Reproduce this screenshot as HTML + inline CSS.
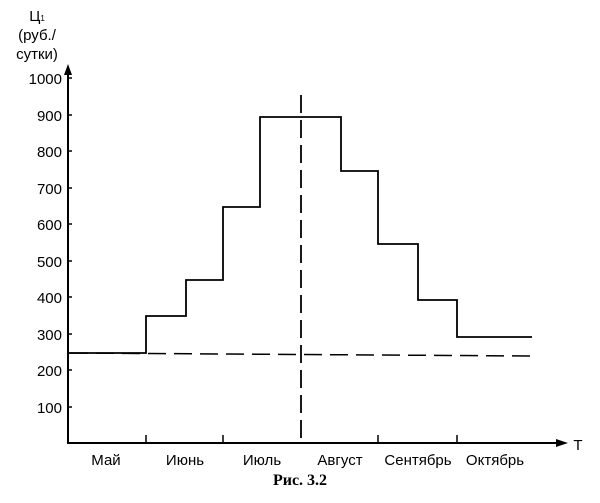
<!DOCTYPE html>
<html><head><meta charset="utf-8"><style>body{margin:0;background:#fff}</style></head><body>
<svg width="600" height="498" viewBox="0 0 600 498" xmlns="http://www.w3.org/2000/svg" font-family="Liberation Sans, sans-serif" fill="#000">
<g stroke="#000" stroke-width="2" fill="none">
<line x1="68" y1="72" x2="68" y2="443"/>
<line x1="67" y1="443" x2="560" y2="443"/>
<g stroke-width="1.5">
<line x1="68" y1="78" x2="72" y2="78"/><line x1="68" y1="115" x2="72" y2="115"/><line x1="68" y1="151" x2="72" y2="151"/><line x1="68" y1="188" x2="72" y2="188"/><line x1="68" y1="224" x2="72" y2="224"/><line x1="68" y1="261" x2="72" y2="261"/><line x1="68" y1="297" x2="72" y2="297"/><line x1="68" y1="334" x2="72" y2="334"/><line x1="68" y1="370" x2="72" y2="370"/><line x1="68" y1="407" x2="72" y2="407"/>
<line x1="146" y1="435" x2="146" y2="443"/><line x1="223" y1="435" x2="223" y2="443"/><line x1="378" y1="435" x2="378" y2="443"/><line x1="457" y1="435" x2="457" y2="443"/>
</g>
<polyline stroke-width="1.8" points="68,353 146,353 146,316 186,316 186,280 223,280 223,207 260,207 260,117 341,117 341,171 378,171 378,244 418,244 418,300 457,300 457,337 532,337"/>
<line x1="70" y1="353" x2="532" y2="356" stroke-dasharray="18,8" stroke-width="1.5"/>
<line x1="301" y1="95" x2="301" y2="443" stroke-dasharray="18,7" stroke-width="1.8"/>
</g>
<polygon points="68,64 64,75 72,75"/>
<polygon points="568,443 556,439 556,447"/>
<g font-size="15" text-anchor="end">
<text x="62" y="84">1000</text><text x="62" y="121">900</text><text x="62" y="157">800</text><text x="62" y="194">700</text><text x="62" y="230">600</text><text x="62" y="267">500</text><text x="62" y="303">400</text><text x="62" y="340">300</text><text x="62" y="376">200</text><text x="62" y="413">100</text>
</g>
<g font-size="15" text-anchor="middle">
<text x="37" y="21">Ц<tspan font-size="8">1</tspan></text>
<text x="37" y="40">(руб./</text>
<text x="37" y="59">сутки)</text>
<text x="106" y="465">Май</text><text x="185" y="465">Июнь</text><text x="262" y="465">Июль</text><text x="340" y="465">Август</text><text x="418" y="465">Сентябрь</text><text x="495" y="465">Октябрь</text>
<text x="578" y="450">Т</text>
<text x="300" y="485" font-family="Liberation Serif, serif" font-weight="bold" font-size="16">Рис. 3.2</text>
</g>
</svg>
</body></html>
